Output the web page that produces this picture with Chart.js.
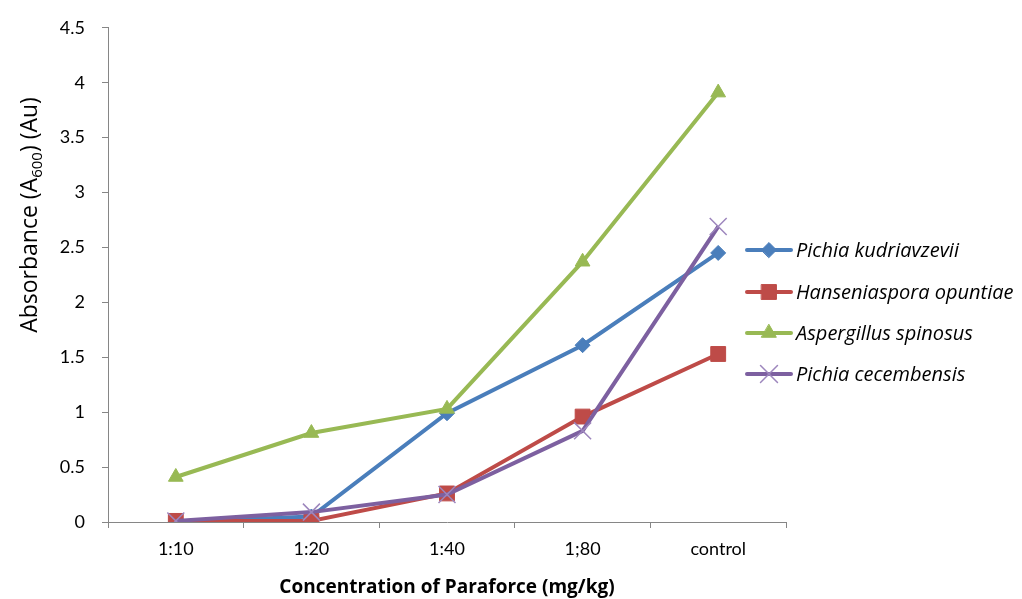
<!DOCTYPE html>
<html>
<head>
<meta charset="utf-8">
<script src="https://cdn.jsdelivr.net/npm/chart.js@4"></script>
<style>
  html, body { margin: 0; padding: 0; background: #fff; }
  #wrap { position: relative; width: 1022px; height: 599px; }
</style>
</head>
<body>
<div id="wrap"><canvas id="chart" width="1022" height="599"></canvas></div>
<script>
// categories and series values
const categories = ['1:10', '1:20', '1:40', '1;80', 'control'];
const kudriavzevii = [0.0, 0.05, 0.99, 1.61, 2.45];
const opuntiae = [0.01, 0.01, 0.26, 0.96, 1.53];
const spinosus = [0.41, 0.81, 1.03, 2.37, 3.91];
const cecembensis = [0.01, 0.09, 0.25, 0.83, 2.69];
const seriesNames = ['Pichia kudriavzevii', 'Hanseniaspora opuntiae', 'Aspergillus spinosus', 'Pichia cecembensis'];

const FONT = 'Lato, "Open Sans", sans-serif';
const TITLE_FONT = '"Open Sans", Lato, sans-serif';
const AXIS_GREY = '#868686';

function series(label, data, color, style, radius, order, markerColor) {
    return {
        label: label,
        data: data,
        borderColor: color,
        backgroundColor: color,
        borderWidth: 4,
        pointStyle: style,
        pointRadius: radius,
        pointHoverRadius: radius,
        pointBackgroundColor: markerColor || color,
        pointBorderColor: markerColor || color,
        pointBorderWidth: style === 'crossRot' ? 1.5 : 1,
        tension: 0,
        order: order
    };
}

// y title with a subscript, drawn rotated
const yTitle = {
    id: 'yTitle',
    afterDraw(chart) {
        const ctx = chart.ctx;
        ctx.save();
        ctx.translate(37, 215);
        ctx.rotate(-Math.PI / 2);
        ctx.fillStyle = '#000';
        ctx.textBaseline = 'alphabetic';
        const parts = [['Absorbance (A', 23, 0], ['600', 15, 5], [') (Au)', 23, 0]];
        let total = 0;
        parts.forEach(p => { ctx.font = p[1] + 'px ' + TITLE_FONT; total += ctx.measureText(p[0]).width; });
        let x = -total / 2;
        parts.forEach(p => {
            ctx.font = p[1] + 'px ' + TITLE_FONT;
            ctx.fillText(p[0], x, p[2]);
            x += ctx.measureText(p[0]).width;
        });
        ctx.restore();
    }
};

// legend sitting over the right part of the plot, like the original
const sideLegend = {
    id: 'sideLegend',
    afterDraw(chart) {
        const ctx = chart.ctx;
        const rows = [250, 292, 333, 374];
        chart.data.datasets.forEach((ds, i) => {
            const y = rows[i];
            ctx.save();
            ctx.strokeStyle = ds.borderColor;
            ctx.lineWidth = 4;
            ctx.lineCap = 'round';
            ctx.beginPath();
            ctx.moveTo(747, y);
            ctx.lineTo(791, y);
            ctx.stroke();
            ctx.fillStyle = ds.pointBackgroundColor;
            ctx.strokeStyle = ds.pointBorderColor;
            ctx.lineWidth = ds.pointBorderWidth;
            Chart.helpers.drawPoint(ctx, { pointStyle: ds.pointStyle, radius: ds.pointRadius, borderWidth: ds.pointBorderWidth }, 769, y);
            ctx.fillStyle = '#000';
            ctx.font = 'italic 20px ' + TITLE_FONT;
            ctx.textBaseline = 'middle';
            ctx.fillText(seriesNames[i], 796, y + 1);
            ctx.restore();
        });
    }
};

new Chart(document.getElementById('chart'), {
    type: 'line',
    data: {
        labels: categories,
        datasets: [
            series(seriesNames[0], kudriavzevii, '#4A7EBB', 'rectRot', 7.5, 4),
            series(seriesNames[1], opuntiae, '#BE4B48', 'rect', 10.5, 3),
            series(seriesNames[2], spinosus, '#98B954', 'triangle', 8.5, 2),
            series(seriesNames[3], cecembensis, '#7D60A0', 'crossRot', 12, 1, '#9d86bd')
        ]
    },
    options: {
        responsive: false,
        animation: false,
        layout: { padding: { top: 26, right: 236, bottom: 0, left: 0 } },
        plugins: { legend: { display: false }, tooltip: { enabled: false } },
        scales: {
            x: {
                offset: true,
                grid: { offset: true, drawOnChartArea: false, drawTicks: true, tickLength: 6, color: AXIS_GREY },
                border: { color: AXIS_GREY, width: 1 },
                ticks: { color: '#000', font: { family: FONT, size: 18 }, padding: 10 },
                title: {
                    display: true,
                    text: 'Concentration of Paraforce (mg/kg)',
                    color: '#000',
                    font: { family: TITLE_FONT, size: 19, weight: 'bold' },
                    padding: { top: 2, bottom: 0 }
                },
                afterFit(scale) { scale.height = 77; }
            },
            y: {
                min: 0,
                max: 4.5,
                ticks: {
                    stepSize: 0.5, color: '#000', font: { family: FONT, size: 18 }, padding: 17,
                    callback: v => String(Math.round(v * 10) / 10)
                },
                grid: { drawOnChartArea: false, drawTicks: true, tickLength: 6, color: AXIS_GREY },
                border: { color: AXIS_GREY, width: 1 },
                afterFit(scale) { scale.width = 108; }
            }
        }
    },
    plugins: [yTitle, sideLegend]
});
</script>
</body>
</html>
